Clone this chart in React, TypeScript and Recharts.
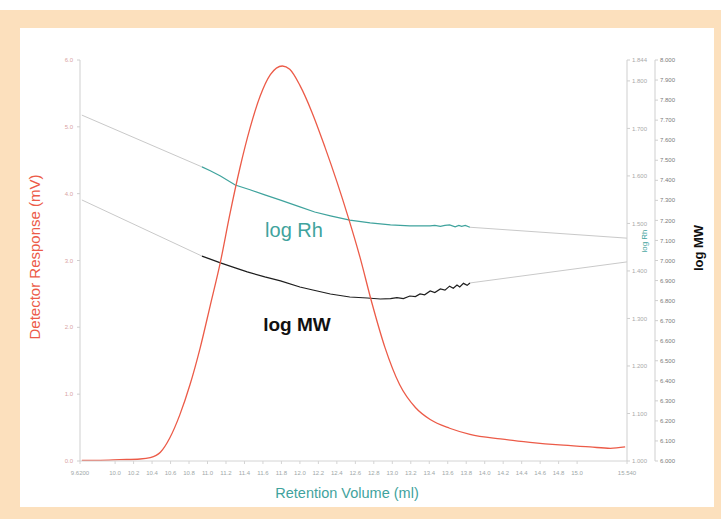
import React from 'react';
import { LineChart, Line, XAxis, YAxis } from 'recharts';

// retention volume axis (ml)
const volumeTicks = [
  9.62, 10.0, 10.2, 10.4, 10.6, 10.8, 11.0, 11.2, 11.4, 11.6, 11.8, 12.0, 12.2, 12.4,
  12.6, 12.8, 13.0, 13.2, 13.4, 13.6, 13.8, 14.0, 14.2, 14.4, 14.6, 14.8, 15.0, 15.54,
];
const responseTicks = [0, 1, 2, 3, 4, 5, 6];
const rhTicks = [1.0, 1.1, 1.2, 1.3, 1.4, 1.5, 1.6, 1.7, 1.8, 1.844];
const mwTicks = [
  6.0, 6.1, 6.2, 6.3, 6.4, 6.5, 6.6, 6.7, 6.8, 6.9, 7.0, 7.1, 7.2, 7.3, 7.4, 7.5, 7.6,
  7.7, 7.8, 7.9, 8.0,
];

// detector response (mV)
const responseVolume = [
  9.64, 9.84, 10.05, 10.27, 10.38, 10.49, 10.59, 10.7, 10.81, 10.92, 11.03, 11.14, 11.24,
  11.35, 11.46, 11.57, 11.68, 11.81, 11.89, 12.0, 12.13, 12.27, 12.4, 12.52, 12.65, 12.78,
  12.92, 13.08, 13.25, 13.41, 13.62, 13.84, 14.17, 14.49, 14.81, 15.14, 15.36, 15.52,
];
const responseMv = [
  0.01, 0.01, 0.02, 0.03, 0.05, 0.13, 0.34, 0.69, 1.14, 1.69, 2.33, 2.98, 3.68, 4.38, 4.98,
  5.46, 5.78, 5.91, 5.86, 5.62, 5.22, 4.7, 4.18, 3.66, 3.05, 2.36, 1.7, 1.14, 0.8, 0.62,
  0.49, 0.4, 0.33, 0.28, 0.24, 0.21, 0.19, 0.21,
];

// log Rh, measured slice
const rhVolume = [
  10.94, 11.03, 11.14, 11.3, 11.46, 11.62, 11.79, 12.0, 12.16, 12.33, 12.54, 12.76, 12.98,
  13.19, 13.41, 13.46, 13.52, 13.57, 13.62, 13.68, 13.72, 13.75, 13.79, 13.84,
];
const rhValue = [
  1.619, 1.611, 1.6, 1.581, 1.571, 1.56, 1.549, 1.535, 1.524, 1.516, 1.507, 1.501, 1.497,
  1.495, 1.495, 1.496, 1.494, 1.496, 1.497, 1.493, 1.496, 1.494, 1.496, 1.492,
];
// log Rh, fitted extension
const rhFitVolumeLeft = [9.64, 10.94];
const rhFitLeft = [1.728, 1.619];
const rhFitVolumeRight = [13.84, 15.54];
const rhFitRight = [1.492, 1.469];

// log MW, measured slice
const mwVolume = [
  10.94, 11.03, 11.14, 11.3, 11.43, 11.62, 11.79, 12.0, 12.14, 12.33, 12.54, 12.73, 12.87,
  12.98, 13.05, 13.12, 13.19, 13.25, 13.3, 13.35, 13.41, 13.46, 13.52, 13.57, 13.62, 13.66,
  13.7, 13.73, 13.77, 13.81, 13.84,
];
const mwValue = [
  7.022, 7.007, 6.988, 6.963, 6.943, 6.918, 6.898, 6.868, 6.853, 6.833, 6.818, 6.813, 6.808,
  6.81, 6.815, 6.81, 6.823, 6.82, 6.833, 6.829, 6.848, 6.84, 6.858, 6.852, 6.872, 6.862,
  6.878, 6.868, 6.886, 6.876, 6.888,
];
const mwFitVolumeLeft = [9.64, 10.94];
const mwFitLeft = [7.302, 7.022];
const mwFitVolumeRight = [13.84, 15.54];
const mwFitRight = [6.888, 6.993];

const pts = (xs: number[], ys: number[]) => xs.map((x, i) => ({ x, y: ys[i] }));

const FONT = '"Liberation Sans", Arial, sans-serif';
const RED = '#ec5b48';
const TEAL = '#3fa39d';
const FIT = '#c9c9c9';

// right axis ids: r1 sits next to the plot, r2 outside it
const RH = 'r1';
const MW = 'r2';

const App: React.FC = () => {
  const tickFont = { fontSize: 6, fontFamily: FONT };

  return (
    <div style={{ position: 'relative', width: 721, height: 519, background: '#fff' }}>
      <style>{'body{margin:0}'}</style>
      <div style={{ position: 'absolute', left: 0, top: 10, width: 721, height: 509, background: '#fce0bd' }} />
      <div style={{ position: 'absolute', left: 20, top: 28, width: 694, height: 479, background: '#fff' }} />

      <div style={{ position: 'absolute', left: 0, top: 0 }}>
        <LineChart width={721} height={519} margin={{ top: 60, right: 26, bottom: 18, left: 30 }}>
          <XAxis
            dataKey="x"
            type="number"
            domain={[9.62, 15.54]}
            ticks={volumeTicks}
            interval={0}
            allowDataOverflow
            height={40}
            tick={{ ...tickFont, fill: '#a0a8a8' }}
            tickFormatter={(v: number) =>
              v === 9.62 ? '9.6200' : v === 15.54 ? '15.540' : v.toFixed(1)
            }
            tickSize={3}
            tickMargin={7}
            axisLine={{ stroke: '#d4d4d4' }}
            tickLine={{ stroke: '#d4d4d4' }}
          />
          <YAxis
            yAxisId="mv"
            orientation="left"
            width={50}
            domain={[0, 6]}
            ticks={responseTicks}
            interval={0}
            tick={{ ...tickFont, fill: '#d9a3a3' }}
            tickFormatter={(v: number) => v.toFixed(1)}
            tickSize={3}
            tickMargin={4}
            axisLine={{ stroke: '#cfcfcf' }}
            tickLine={{ stroke: '#cfcfcf' }}
          />
          <YAxis
            yAxisId={RH}
            orientation="right"
            width={28}
            domain={[1.0, 1.844]}
            ticks={rhTicks}
            interval={0}
            allowDataOverflow
            tick={{ ...tickFont, fill: '#a9a9a9' }}
            tickFormatter={(v: number) => v.toFixed(3)}
            tickSize={3}
            axisLine={{ stroke: '#cfcfcf' }}
            tickLine={{ stroke: '#cfcfcf' }}
          />
          <YAxis
            yAxisId={MW}
            orientation="right"
            width={40}
            domain={[6, 8]}
            ticks={mwTicks}
            interval={0}
            allowDataOverflow
            tick={{ ...tickFont, fill: '#7a7a7a' }}
            tickFormatter={(v: number) => v.toFixed(3)}
            tickSize={3}
            axisLine={{ stroke: '#cfcfcf' }}
            tickLine={{ stroke: '#cfcfcf' }}
          />

          <Line yAxisId={RH} data={pts(rhFitVolumeLeft, rhFitLeft)} dataKey="y" stroke={FIT} strokeWidth={1} dot={false} isAnimationActive={false} />
          <Line yAxisId={RH} data={pts(rhFitVolumeRight, rhFitRight)} dataKey="y" stroke={FIT} strokeWidth={1} dot={false} isAnimationActive={false} />
          <Line yAxisId={MW} data={pts(mwFitVolumeLeft, mwFitLeft)} dataKey="y" stroke={FIT} strokeWidth={1} dot={false} isAnimationActive={false} />
          <Line yAxisId={MW} data={pts(mwFitVolumeRight, mwFitRight)} dataKey="y" stroke={FIT} strokeWidth={1} dot={false} isAnimationActive={false} />

          <Line yAxisId={RH} data={pts(rhVolume, rhValue)} dataKey="y" type="linear" stroke={TEAL} strokeWidth={1.2} dot={false} isAnimationActive={false} />
          <Line yAxisId={MW} data={pts(mwVolume, mwValue)} dataKey="y" type="linear" stroke="#1e1e1e" strokeWidth={1.2} dot={false} isAnimationActive={false} />
          <Line yAxisId="mv" data={pts(responseVolume, responseMv)} dataKey="y" type="monotone" stroke={RED} strokeWidth={1.3} dot={false} isAnimationActive={false} />
        </LineChart>
      </div>

      <svg width={721} height={519} style={{ position: 'absolute', left: 0, top: 0, pointerEvents: 'none' }}>
        <text x={36} y={257} transform="rotate(-90 36 257)" textAnchor="middle" dominantBaseline="middle" fontFamily={FONT} fontSize={15} fill={RED}>
          Detector Response (mV)
        </text>
        <text x={347} y={494} textAnchor="middle" dominantBaseline="middle" fontFamily={FONT} fontSize={14.5} fill={TEAL}>
          Retention Volume (ml)
        </text>
        <text x={645} y={241} transform="rotate(-90 645 241)" textAnchor="middle" dominantBaseline="middle" fontFamily={FONT} fontSize={8} fill={TEAL}>
          log Rh
        </text>
        <text x={700} y={248} transform="rotate(-90 700 248)" textAnchor="middle" dominantBaseline="middle" fontFamily={FONT} fontSize={13} fontWeight="bold" fill="#111">
          log MW
        </text>
        <text x={294} y={232} textAnchor="middle" dominantBaseline="middle" fontFamily={FONT} fontSize={20} fill={TEAL}>
          log Rh
        </text>
        <text x={297} y={326} textAnchor="middle" dominantBaseline="middle" fontFamily={FONT} fontSize={19} fontWeight="bold" fill="#111">
          log MW
        </text>
      </svg>
    </div>
  );
};

export default App;
